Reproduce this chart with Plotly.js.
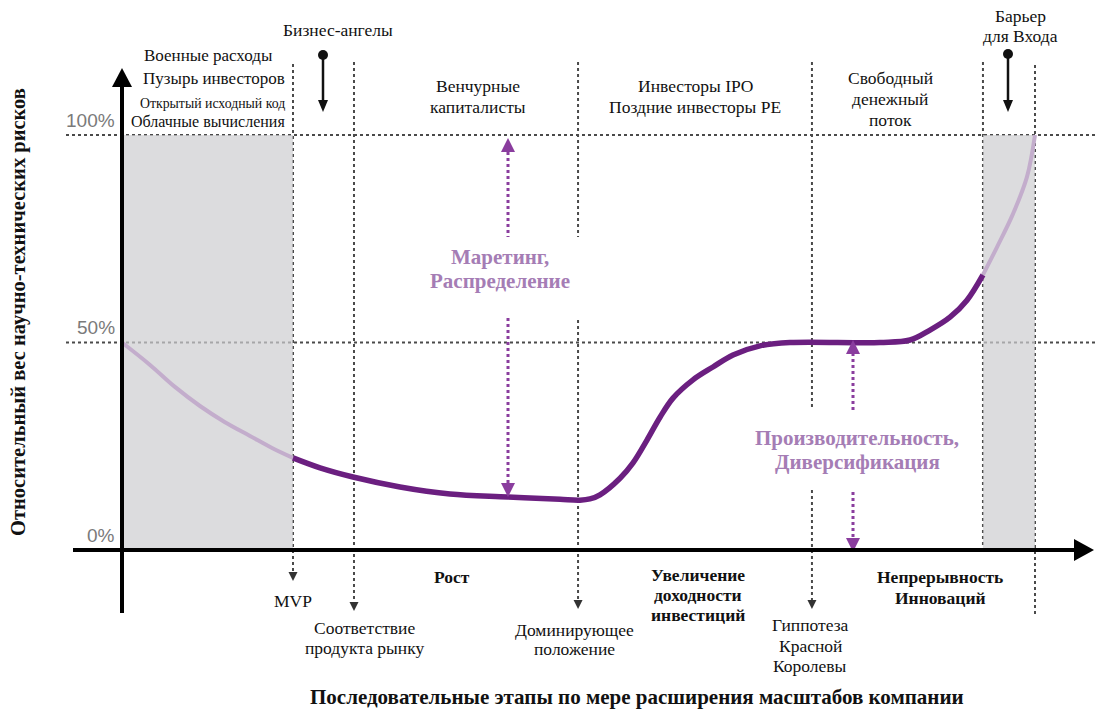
<!DOCTYPE html>
<html><head><meta charset="utf-8">
<script src="https://cdn.plot.ly/plotly-3.0.1.min.js"></script>
<style>html,body{margin:0;padding:0;background:#fff}#chart{width:1096px;height:711px}</style>
</head><body><div id="chart"></div>
<script>
// ---- data ----
const stageX = [18.73, 25.41, 49.95, 75.57, 94.3, 100];           // stage boundaries (0..100 scale)
const levels = [0, 50, 100];
const levelLabels = ['0%', '50%', '100%'];
const curveX = [0, 3.07, 5.8, 8.54, 11.28, 14.02, 16.43, 18.73, 21.69, 25.3, 30.45, 35.93, 42.28, 47.97, 50.16, 51.25, 52.35, 54.55, 55.97, 57.5, 58.93, 60.35, 62.54, 64.73, 66.92, 69.88, 73.16, 83.02, 86.31, 88.5, 90.69, 92.55, 94.3, 95.84, 97.59, 99.12, 100];
const curveY = [50, 44.6, 39.3, 34.7, 30.8, 27.5, 24.6, 22.2, 19.8, 17.6, 15.2, 13.5, 12.8, 12.2, 12.0, 12.3, 13.3, 17.3, 21.0, 26.5, 32.0, 36.6, 41.0, 44.1, 47.0, 49.2, 50.0, 50.0, 50.6, 53.0, 56.1, 60.2, 66.3, 73.0, 81.0, 89.9, 100];
const topLabels = ['Венчурные<br>капиталисты', 'Инвесторы IPO<br>Поздние инвесторы PE', 'Свободный<br>денежный<br>поток'];
const earlyLabels = ['Военные расходы', 'Пузырь инвесторов', 'Открытый исходный код', 'Облачные вычисления'];
const milestoneLabels = ['MVP', 'Соответствие<br>продукта рынку', 'Доминирующее<br>положение', 'Гиппотеза<br>Красной<br>Королевы'];
const phaseLabels = ['Рост', 'Увеличение<br>доходности<br>инвестиций', 'Непрерывность<br>Инноваций'];
const driverLabels = ['Маретинг,<br>Распределение', 'Производительность,<br>Диверсификация'];
const arrowLabels = ['Бизнес-ангелы', 'Барьер<br>для Входа'];
const xTitle = 'Последовательные этапы по мере расширения масштабов компании';
const yTitle = 'Относительный вес научно-технических рисков';

// ---- pixel helpers for layout placement ----
const X = px => (px - 122) / 9.13;
const Y = py => (550 - py) / 4.15;
const PX = x => 122 + x * 9.13;

const DARK = '#6b1f80', LIGHT = '#c3adcc', PURP = '#8a3d9e', PTXT = '#a57db5', DOT = '#4a4a4a';
const SERIF = '"Liberation Serif", "Times New Roman", serif';

function seg(lo, hi) {
  const xs = [], ys = [];
  curveX.forEach((x, i) => { if (x >= lo && x <= hi) { xs.push(x); ys.push(curveY[i]); } });
  return {xs, ys};
}
const s1 = seg(0, stageX[0]), s2 = seg(stageX[0], stageX[4]), s3 = seg(stageX[4], 100);
const traces = [
  {x: s1.xs, y: s1.ys, mode: 'lines', line: {color: LIGHT, width: 4, shape: 'spline', smoothing: 1}, hoverinfo: 'skip'},
  {x: s2.xs, y: s2.ys, mode: 'lines', line: {color: DARK, width: 5.5, shape: 'spline', smoothing: 1}, hoverinfo: 'skip'},
  {x: s3.xs, y: s3.ys, mode: 'lines', line: {color: LIGHT, width: 4, shape: 'spline', smoothing: 1}, hoverinfo: 'skip'}
];

const shapes = [];
function line(x0, y0, x1, y1, color, width, dash, layer) {
  shapes.push({type: 'line', xref: 'x', yref: 'y', x0, y0, x1, y1, line: {color, width, dash: dash || 'solid'}, layer: layer || 'below'});
}
function tri(tx, ty, dir, w, h, color) {
  let p;
  if (dir === 'up') p = [[tx, ty], [tx - w / 2, ty + h], [tx + w / 2, ty + h]];
  else if (dir === 'down') p = [[tx, ty], [tx - w / 2, ty - h], [tx + w / 2, ty - h]];
  else p = [[tx, ty], [tx - h, ty - w / 2], [tx - h, ty + w / 2]];
  const path = 'M' + p.map(q => X(q[0]) + ',' + Y(q[1])).join(' L') + ' Z';
  shapes.push({type: 'path', xref: 'x', yref: 'y', path, fillcolor: color, line: {width: 0}, layer: 'above'});
}

// horizontal dotted reference lines (50%, 100%)
levels.slice(1).forEach(l => line(X(66), l, X(1096), l, DOT, 2, 'dot'));
// vertical dotted stage lines (with gaps behind labels)
const vSegs = [
  [0, 64, 574], [1, 62, 603], [2, 62, 237], [2, 320, 601], [3, 62, 410], [3, 490, 601], [4, 62, 552], [5, 65, 615]
];
vSegs.forEach(s => line(stageX[s[0]], Y(s[1]), stageX[s[0]], Y(s[2]), DOT, 2, 'dot'));
// small arrowheads on milestone lines
[[0, 581], [1, 611], [2, 609], [3, 609]].forEach(a => tri(PX(stageX[a[0]]), a[1], 'down', 9, 9, '#333'));
// grey zones
shapes.push({type: 'rect', xref: 'x', yref: 'y', x0: 0, x1: stageX[0], y0: 0, y1: 100, fillcolor: 'rgba(205,205,208,0.7)', line: {width: 0}, layer: 'below'});
shapes.push({type: 'rect', xref: 'x', yref: 'y', x0: stageX[4], x1: stageX[5], y0: 0, y1: 100, fillcolor: 'rgba(205,205,208,0.7)', line: {width: 0}, layer: 'below'});
// purple dotted driver arrows
line(X(508), Y(152), X(508), Y(237), PURP, 3, 'dot', 'above');
line(X(508), Y(318), X(508), Y(485), PURP, 3, 'dot', 'above');
tri(508, 138, 'up', 14, 14, PURP);
tri(508, 497, 'down', 14, 14, PURP);
line(X(853), Y(353), X(853), Y(410), PURP, 3, 'dot', 'above');
line(X(853), Y(492), X(853), Y(540), PURP, 3, 'dot', 'above');
tri(853, 340, 'up', 14, 14, PURP);
tri(853, 552, 'down', 14, 14, PURP);
// axes
line(0, Y(613), 0, Y(86), '#000', 4, 'solid', 'above');
tri(122, 68, 'up', 20, 19, '#000');
line(X(73), 0, X(1076), 0, '#000', 4, 'solid', 'above');
tri(1094, 550, 'right', 22, 20, '#000');
// black arrows with a ball
[[323, 55, 112], [1008, 54, 112]].forEach(a => {
  line(X(a[0]), Y(a[1]), X(a[0]), Y(a[2] - 10), '#111', 2.5, 'solid', 'above');
  tri(a[0], a[2], 'down', 10, 12, '#111');
  shapes.push({type: 'circle', xref: 'x', yref: 'y', x0: X(a[0] - 5), x1: X(a[0] + 5), y0: Y(a[1] + 5), y1: Y(a[1] - 5), fillcolor: '#111', line: {width: 0}, layer: 'above'});
});

// ---- annotations ----
const ann = [];
function txt(text, px, py, size, opt) {
  opt = opt || {};
  ann.push(Object.assign({xref: 'x', yref: 'y', x: X(px), y: Y(py), text, showarrow: false,
    xanchor: 'center', yanchor: 'middle',
    font: {family: opt.family || SERIF, size, color: opt.color || '#111', weight: opt.bold ? 'bold' : 'normal'}}, opt.extra || {}));
}
// multi-line label: one annotation per line, given first-line centre and line pitch
function block(label, px, py0, pitch, size, opt) {
  label.split('<br>').forEach((t, i) => txt(t, px, py0 + i * pitch, size, opt));
}
levels.forEach((l, i) => ann.push({xref: 'x', yref: 'y', x: X(117), y: l, yshift: 15, text: levelLabels[i], showarrow: false,
  xanchor: 'right', yanchor: 'middle', font: {family: '"Liberation Sans", Arial, sans-serif', size: 19, color: '#7a7a7a'}}));

const N = 17.5;
txt(arrowLabels[0], 338, 30, N);
block(arrowLabels[1], 1020, 16, 20, N);
txt(earlyLabels[0], 208, 55, 17);
txt(earlyLabels[1], 214, 78, 17);
txt(earlyLabels[2], 212, 103, 13.8);
txt(earlyLabels[3], 208, 121, 16);
block(topLabels[0], 478, 86, 21, N);
block(topLabels[1], 695, 86, 21, N);
block(topLabels[2], 890, 78, 21, N);
block(driverLabels[0], 500, 257, 24, 21, {bold: true, color: PTXT});
block(driverLabels[1], 857, 438, 24, 21, {bold: true, color: PTXT});
txt(milestoneLabels[0], 293, 601, N);
block(milestoneLabels[1], 364, 628, 20, N);
block(milestoneLabels[2], 574, 630, 19, N);
block(milestoneLabels[3], 810, 625, 20.5, N);
txt(phaseLabels[0], 452, 577, N, {bold: true});
block(phaseLabels[1], 698, 575, 20, N, {bold: true});
block(phaseLabels[2], 940, 577, 20.5, N, {bold: true});
txt(xTitle, 637, 697, 21, {bold: true});
txt(yTitle, 18, 312, 20.5, {bold: true, extra: {textangle: -90}});

const layout = {
  width: 1096, height: 711,
  margin: {l: 0, r: 0, t: 0, b: 0, pad: 0},
  paper_bgcolor: '#fff', plot_bgcolor: '#fff',
  showlegend: false,
  xaxis: {range: [X(0), X(1096)], visible: false, fixedrange: true},
  yaxis: {range: [Y(711), Y(0)], visible: false, fixedrange: true},
  shapes, annotations: ann
};
Plotly.newPlot('chart', traces, layout, {staticPlot: true, displayModeBar: false});
</script>
</body></html>
